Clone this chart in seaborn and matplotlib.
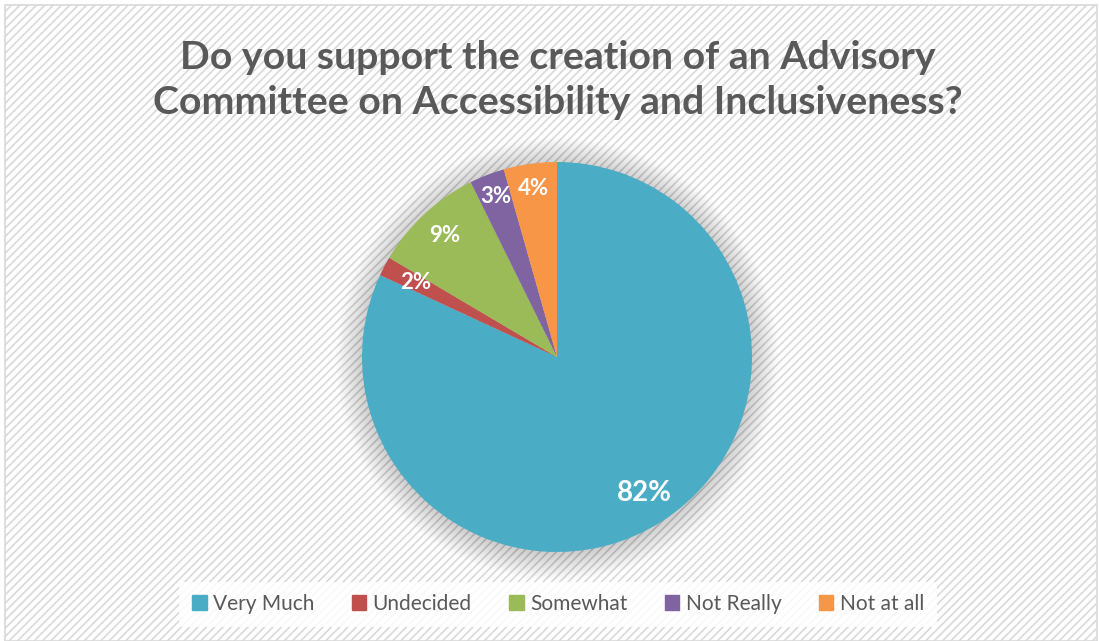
import numpy as np
import matplotlib
matplotlib.use('Agg')
import matplotlib.pyplot as plt
import matplotlib.patches as mpatches
import seaborn as sns

categories = ['Very Much', 'Undecided', 'Somewhat', 'Not Really', 'Not at all']
shares = [81.9, 1.6, 9.2, 2.9, 4.4]
labels_pct = ['82%', '2%', '9%', '3%', '4%']
colors = sns.color_palette(['#4BACC6', '#C0504D', '#9BBB59', '#8064A2', '#F79646'])
title = 'Do you support the creation of an Advisory\nCommittee on Accessibility and Inclusiveness?'

sns.set_theme(style='white')
plt.rcParams['font.family'] = ['Lato', 'DejaVu Sans']
plt.rcParams['hatch.linewidth'] = 1.2
plt.rcParams['hatch.color'] = '#F4F4F4'

W, H = 1099, 641
fig = plt.figure(figsize=(W / 100, H / 100), dpi=100)
fig.patch.set_facecolor('white')

# striped background + border
bg = mpatches.Rectangle((5 / W, 0), 1 - 7 / W, 1 - 5 / H, transform=fig.transFigure,
                        facecolor='white', edgecolor='#D9D9D9', hatch='////', lw=1.2, zorder=-5)
fig.patches.append(bg)

fig.text(558 / W, 1 - 80 / H, title, ha='center', va='center', fontsize=28.3,
         fontweight='bold', color='#595959', linespacing=1.33)

cx, cy, r = 557, 357, 195
ax = fig.add_axes([(cx - r) / W, (H - cy - r) / H, 2 * r / W, 2 * r / H])
ax.set_facecolor('none')
ax.set_zorder(2)

# soft shadow around the pie
for i in range(16):
    ax.add_patch(mpatches.Circle((0.0, -0.01), 1.0 + 0.009 * i, color='black',
                                 alpha=0.013, lw=0, zorder=0, clip_on=False))

wedges, _ = ax.pie(shares, colors=colors, startangle=90, counterclock=False,
                   radius=1, wedgeprops=dict(lw=0, zorder=2))

sizes = [20, 16, 16, 16, 16]
dists = [0.83, 0.82, 0.85, 0.88, 0.87]
for w, lab, d, fs in zip(wedges, labels_pct, dists, sizes):
    ang = np.deg2rad((w.theta1 + w.theta2) / 2)
    ax.text(d * np.cos(ang), d * np.sin(ang), lab, ha='center', va='center',
            fontsize=fs, fontweight='bold', color='white', zorder=3)
ax.set_xlim(-1, 1)
ax.set_ylim(-1, 1)
ax.axis('off')

handles = [mpatches.Patch(color=c, label=n) for c, n in zip(colors, categories)]
leg = fig.legend(handles=handles, loc='center', bbox_to_anchor=(558 / W, 1 - 604 / H),
                 ncol=5, frameon=True, fontsize=15, handlelength=0.7, handleheight=0.7,
                 handletextpad=0.3, columnspacing=1.8, borderpad=0.6, fancybox=False,
                 labelcolor='#595959')
leg.get_frame().set_facecolor('white')
leg.get_frame().set_edgecolor('none')
leg.get_frame().set_alpha(0.85)

fig.savefig('out.png', dpi=100)
